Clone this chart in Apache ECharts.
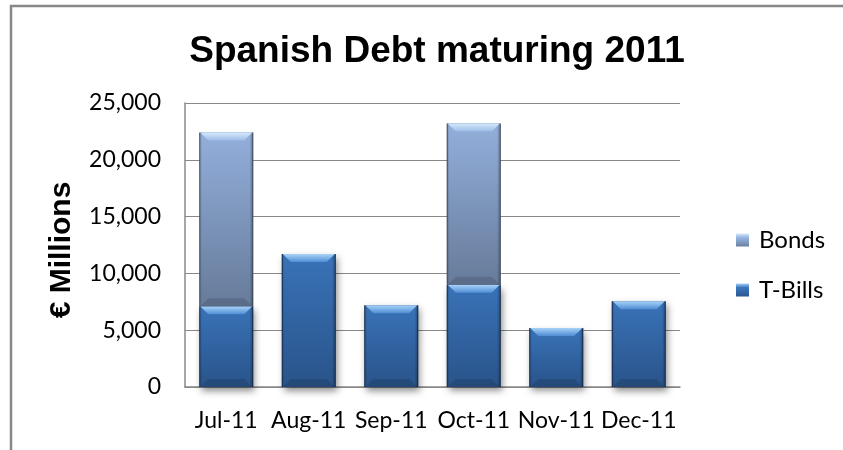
<!DOCTYPE html>
<html>
<head>
<meta charset="utf-8">
<script src="https://cdn.jsdelivr.net/npm/echarts@6/dist/echarts.min.js"></script>
<style>
  html, body { margin: 0; padding: 0; background: #ffffff; }
  #chart { width: 843px; height: 450px; }
</style>
</head>
<body>
<div id="chart"></div>
<script>
// Monthly maturities of Spanish government debt, second half of 2011 (EUR millions)
const categories = ['Jul-11', 'Aug-11', 'Sep-11', 'Oct-11', 'Nov-11', 'Dec-11'];
const tBills = [7100, 11700, 7200, 9000, 5200, 7550];
const bonds = [15300, 0, 0, 14200, 0, 0];
const yTickValues = [0, 5000, 10000, 15000, 20000, 25000];

const LG = echarts.graphic.LinearGradient;

const palettes = {
  'T-Bills': {
    top: '#3b77bf', bottom: '#2b578f', edge: '#1d3c66',
    bevelTop: '#a8d3f8', bevelBottom: '#4f8dd4', shadow: true
  },
  'Bonds': {
    top: '#98b6e4', bottom: '#6b80a0', edge: '#55667f',
    bevelTop: '#d6eafc', bevelBottom: '#9cbbe6', shadow: false
  }
};

// [categoryIndex, stackBase, stackTop] rows for each stacked segment
function stackRows(values, bases) {
  return values.map((v, i) => [i, bases[i], bases[i] + v]);
}
const tBillRows = stackRows(tBills, tBills.map(() => 0));
const bondRows = stackRows(bonds, tBills);

// Bevelled column segment drawn from the axis coordinates of its stack range
function bevelBar(p) {
  return function (params, api) {
    const i = api.value(0), lo = api.value(1), hi = api.value(2);
    if (!(hi > lo)) return null;
    const a = api.coord([i, lo]);
    const b = api.coord([i, hi]);
    const w = api.size([1, 0])[0] * 0.655;
    const x = a[0] - w / 2, y = b[1], h = a[1] - b[1];
    const bv = Math.min(8, h / 3);
    const kids = [];
    kids.push({
      type: 'rect', shape: { x: x, y: y, width: w, height: h },
      style: p.shadow
        ? { fill: p.edge, shadowBlur: 7, shadowColor: 'rgba(0,0,0,0.45)', shadowOffsetX: 2, shadowOffsetY: 4 }
        : { fill: p.edge }
    });
    kids.push({
      type: 'rect', shape: { x: x + 1, y: y, width: w - 2, height: h },
      style: { fill: new LG(0, 0, 0, 1, [{ offset: 0, color: p.top }, { offset: 1, color: p.bottom }]) }
    });
    kids.push({
      type: 'rect', shape: { x: x, y: y, width: w, height: h },
      style: {
        fill: new LG(0, 0, 1, 0, [
          { offset: 0, color: 'rgba(0,0,0,0.28)' }, { offset: 0.05, color: 'rgba(0,0,0,0.04)' },
          { offset: 0.93, color: 'rgba(0,0,0,0.04)' }, { offset: 1, color: 'rgba(0,0,0,0.35)' }
        ])
      }
    });
    kids.push({
      type: 'polygon',
      shape: { points: [[x + 1, y], [x + w - 1, y], [x + w - 1 - bv, y + bv], [x + 1 + bv, y + bv]] },
      style: { fill: new LG(0, 0, 0, 1, [{ offset: 0, color: p.bevelTop }, { offset: 1, color: p.bevelBottom }]) }
    });
    kids.push({
      type: 'polygon',
      shape: { points: [[x + 1, y + h], [x + w - 1, y + h], [x + w - 1 - bv, y + h - bv], [x + 1 + bv, y + h - bv]] },
      style: { fill: 'rgba(0,0,0,0.12)' }
    });
    return { type: 'group', children: kids };
  };
}

const legendIcon = (p) => new LG(0, 0, 0, 1, [{ offset: 0, color: p.bevelTop }, { offset: 0.3, color: p.top }, { offset: 1, color: p.bottom }]);

const chart = echarts.init(document.getElementById('chart'), null, { renderer: 'canvas' });

chart.setOption({
  backgroundColor: '#ffffff',
  animation: false,
  title: {
    text: 'Spanish Debt maturing 2011',
    left: 432,
    top: 28,
    textAlign: 'center',
    textStyle: { fontFamily: 'Liberation Sans', fontWeight: 'bold', fontSize: 37, color: '#000000' }
  },
  legend: {
    orient: 'vertical',
    left: 731,
    top: 223,
    itemWidth: 13,
    itemHeight: 13,
    itemGap: 26,
    icon: 'rect',
    textStyle: { fontFamily: 'Lato', fontSize: 24, color: '#000000', padding: [0, 0, 0, 5] },
    data: [
      { name: 'Bonds', itemStyle: { color: legendIcon(palettes['Bonds']) } },
      { name: 'T-Bills', itemStyle: { color: legendIcon(palettes['T-Bills']) } }
    ]
  },
  grid: { left: 185, right: 163, top: 103, bottom: 63, containLabel: false },
  xAxis: {
    type: 'category',
    data: categories,
    axisLine: { lineStyle: { color: '#888888', width: 1.5 } },
    axisTick: { show: false },
    axisLabel: { interval: 0, margin: 22, fontFamily: 'Lato', fontSize: 23, color: '#000000' }
  },
  yAxis: {
    type: 'value',
    min: yTickValues[0],
    max: yTickValues[yTickValues.length - 1],
    interval: yTickValues[1] - yTickValues[0],
    name: '€ Millions',
    nameLocation: 'middle',
    nameGap: 108,
    nameRotate: 90,
    nameTextStyle: { fontFamily: 'Liberation Sans', fontWeight: 'bold', fontSize: 30, color: '#000000', padding: [0, 10, 0, 0] },
    axisLine: { show: true, lineStyle: { color: '#888888', width: 1.5 } },
    axisTick: { show: false },
    splitLine: { lineStyle: { color: '#888888', width: 1 } },
    axisLabel: {
      margin: 24, fontFamily: 'Lato', fontSize: 23, color: '#000000',
      formatter: (v) => v.toLocaleString('en-US')
    }
  },
  series: [
    {
      name: 'T-Bills', type: 'custom', renderItem: bevelBar(palettes['T-Bills']),
      encode: { x: 0, y: [1, 2] }, itemStyle: { color: palettes['T-Bills'].top },
      data: tBillRows, z: 2
    },
    {
      name: 'Bonds', type: 'custom', renderItem: bevelBar(palettes['Bonds']),
      encode: { x: 0, y: [1, 2] }, itemStyle: { color: palettes['Bonds'].top },
      data: bondRows, z: 3
    }
  ],
  graphic: [{
    type: 'rect', silent: true, z: 100,
    shape: { x: 11, y: 6, width: 860, height: 460 },
    style: { fill: 'none', stroke: '#888888', lineWidth: 2.5 }
  }]
});
</script>
</body>
</html>
